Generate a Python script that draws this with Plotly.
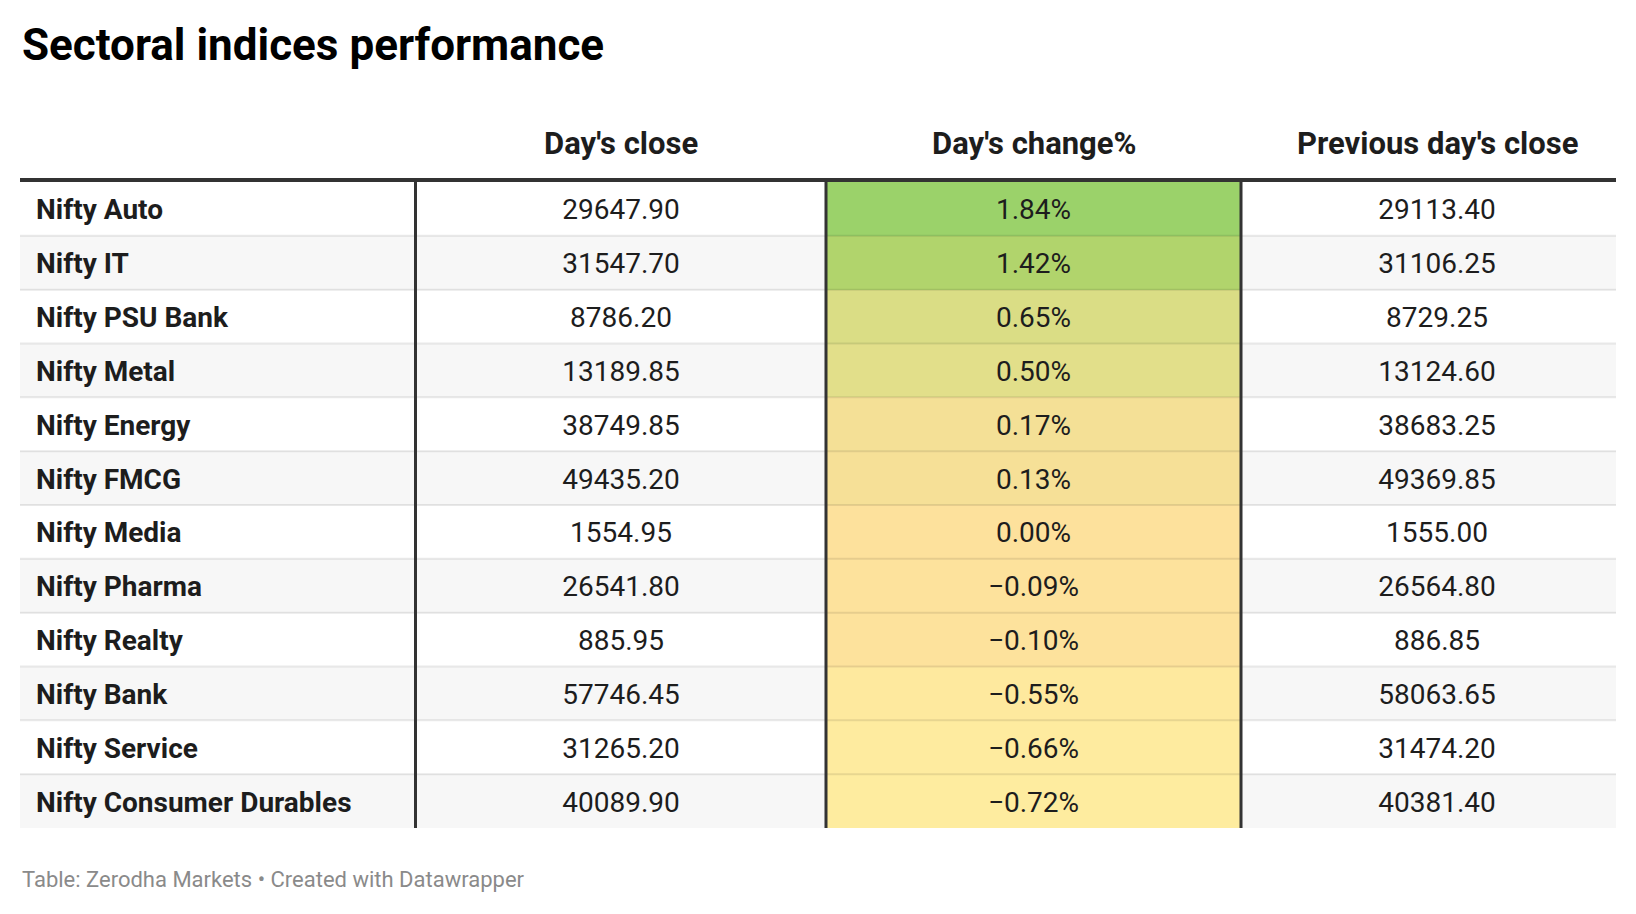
import plotly.graph_objects as go

# data
indices = ["Nifty Auto", "Nifty IT", "Nifty PSU Bank", "Nifty Metal", "Nifty Energy",
           "Nifty FMCG", "Nifty Media", "Nifty Pharma", "Nifty Realty", "Nifty Bank",
           "Nifty Service", "Nifty Consumer Durables"]
day_close = [29647.90, 31547.70, 8786.20, 13189.85, 38749.85, 49435.20,
             1554.95, 26541.80, 885.95, 57746.45, 31265.20, 40089.90]
day_change = [1.84, 1.42, 0.65, 0.50, 0.17, 0.13, 0.00, -0.09, -0.10, -0.55, -0.66, -0.72]
prev_close = [29113.40, 31106.25, 8729.25, 13124.60, 38683.25, 49369.85,
              1555.00, 26564.80, 886.85, 58063.65, 31474.20, 40381.40]
headers = ["", "Day's close", "Day's change%", "Previous day's close"]

W, H = 1636, 914
OFF = 8  # page body margin
FONT = "Roboto"
TXT = "#1d1d1d"

# column edges (page px) and table vertical extent (page px from top)
edges = [20, 415.5, 826, 1241, 1616]
top_px, bot_px = 182, 828
n = len(indices)
rows = list(range(n))
y_edges = [i - 0.5 for i in range(n + 1)]
# text centres per column (last column text sits a bit right of the cell middle)
centers = [None, 621, 1033.5, 1437]
text_y = [r + 0.065 for r in rows]


def py(px):
    return 1 - (px - OFF) / H


def px_x(px):
    return (px - OFF) / W


def fmt_pct(v):
    return f"{v:.2f}%".replace("-", "\u2212")


fig = go.Figure()

# zebra stripes
fig.add_trace(go.Heatmap(
    x=[edges[0], edges[-1]], y=y_edges, z=[[i % 2] for i in rows],
    colorscale=[[0, "#ffffff"], [1, "#f7f7f7"]], zmin=0, zmax=1,
    showscale=False, hoverinfo="skip"))

# colored change column
fig.add_trace(go.Heatmap(
    x=[edges[2], edges[3]], y=y_edges, z=[[v] for v in day_change],
    colorscale=[[0, "#feec9f"], [0.28, "#fde19c"], [0.48, "#e2df8a"],
                [0.84, "#b0d46c"], [1, "#9bd26a"]],
    zmin=min(day_change), zmax=max(day_change),
    showscale=False, hoverinfo="skip"))

cell_font = dict(family=FONT, size=28, color=TXT)
fig.add_trace(go.Scatter(
    x=[edges[0] + 16] * n, y=text_y, mode="text",
    text=[f"<b>{s}</b>" for s in indices], textposition="middle right",
    textfont=cell_font, hoverinfo="skip", cliponaxis=False))
fig.add_trace(go.Scatter(
    x=[centers[1]] * n, y=text_y, mode="text",
    text=[f"{v:.2f}" for v in day_close], textposition="middle center",
    textfont=cell_font, hoverinfo="skip", cliponaxis=False))
fig.add_trace(go.Scatter(
    x=[centers[2]] * n, y=text_y, mode="text",
    text=[fmt_pct(v) for v in day_change], textposition="middle center",
    textfont=cell_font, hoverinfo="skip", cliponaxis=False))
fig.add_trace(go.Scatter(
    x=[centers[3]] * n, y=text_y, mode="text",
    text=[f"{v:.2f}" for v in prev_close], textposition="middle center",
    textfont=cell_font, hoverinfo="skip", cliponaxis=False))

shapes = []
# row separators
for i in rows[:-1]:
    shapes.append(dict(type="line", xref="x", yref="y", x0=edges[0], x1=edges[-1],
                       y0=i + 0.5, y1=i + 0.5, line=dict(color="rgba(0,0,0,0.09)", width=2)))
# thick vertical separators
for xe in edges[1:4]:
    shapes.append(dict(type="line", xref="x", yref="y", x0=xe, x1=xe,
                       y0=-0.5, y1=n - 0.5, line=dict(color="#333333", width=3)))
# header rule
shapes.append(dict(type="line", xref="x", yref="paper", x0=edges[0], x1=edges[-1],
                   y0=py(180), y1=py(180), line=dict(color="#333333", width=4)))

annotations = [
    dict(text="<b>Sectoral indices performance</b>", xref="paper", yref="paper",
         x=px_x(20), y=py(45), xanchor="left", yanchor="middle", showarrow=False,
         font=dict(family=FONT, size=44, color="#000000")),
    dict(text="Table: Zerodha Markets \u2022 Created with Datawrapper", xref="paper", yref="paper",
         x=px_x(20), y=py(879), xanchor="left", yanchor="middle", showarrow=False,
         font=dict(family=FONT, size=22, color="#8a8a8a")),
]
for i, h in enumerate(headers):
    if h:
        annotations.append(dict(text=f"<b>{h}</b>", xref="x", yref="paper",
                                x=centers[i], y=py(143), xanchor="center", yanchor="middle",
                                showarrow=False, font=dict(family=FONT, size=31, color=TXT)))

fig.update_layout(
    width=W, height=H, margin=dict(l=0, r=0, t=0, b=0),
    paper_bgcolor="white", plot_bgcolor="white", showlegend=False,
    shapes=shapes, annotations=annotations,
    xaxis=dict(range=[OFF, W + OFF], domain=[0, 1], visible=False, fixedrange=True),
    yaxis=dict(range=[n - 0.5, -0.5], domain=[py(bot_px), py(top_px)],
               visible=False, fixedrange=True),
)

fig.write_html("out.html")
